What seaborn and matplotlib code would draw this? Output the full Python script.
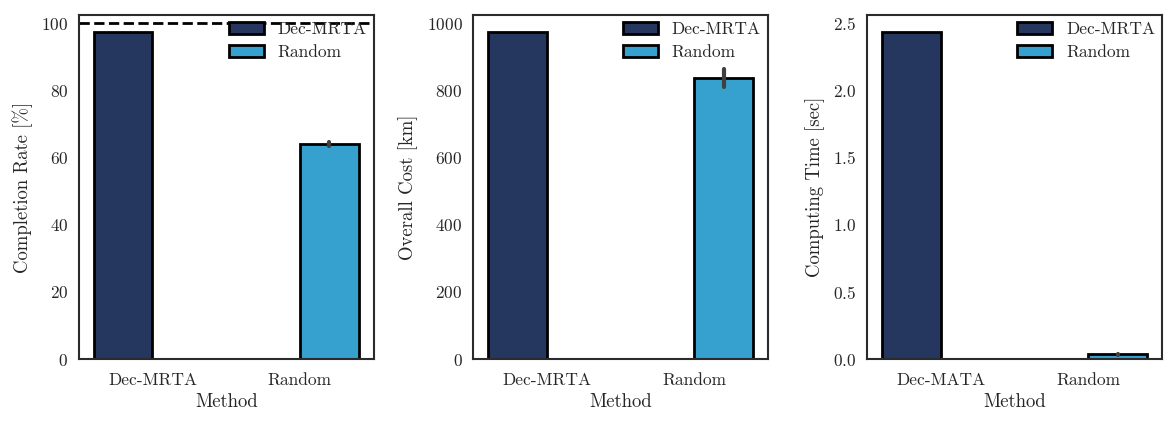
import pandas as pd
import numpy as np
import matplotlib
matplotlib.use("Agg")
import matplotlib.pyplot as plt
import seaborn as sns

methods = ["Dec-MRTA", "Random"]
colors = ["#25375F", "#36A1CE"]

# per-run values (Random has several runs -> spread)
completion_dec = [97.5]
completion_rand = [63.6, 64.1, 64.7]
cost_dec = [975]
cost_rand = [810, 837, 864]
time_dec = [2.43]
time_rand = [0.030, 0.035, 0.040]

def make_df(dec, rand):
    return pd.DataFrame({
        "Method": ["Dec-MRTA"] * len(dec) + ["Random"] * len(rand),
        "value": list(dec) + list(rand),
    })

sns.set_style("white")
plt.rcParams["font.family"] = "serif"
plt.rcParams["font.serif"] = ["cmr10", "DejaVu Serif"]
plt.rcParams["axes.formatter.use_mathtext"] = True
plt.rcParams["axes.edgecolor"] = "#2b2b2b"
plt.rcParams["axes.linewidth"] = 1.5

fig, axes = plt.subplots(1, 3, figsize=(11.76, 4.26), dpi=100)
plt.subplots_adjust(left=0.067, right=0.988, bottom=0.157, top=0.965, wspace=0.337)

panels = [
    (make_df(completion_dec, completion_rand), "Completion Rate [%]", (0, 102.5), methods),
    (make_df(cost_dec, cost_rand), "Overall Cost [km]", (0, 1025), methods),
    (make_df(time_dec, time_rand), "Computing Time [sec]", (0, 2.56), ["Dec-MATA", "Random"]),
]

for ax, (df, ylab, ylim, ticklabels) in zip(axes, panels):
    sns.barplot(data=df, x="Method", y="value", hue="Method", order=methods,
                hue_order=methods, palette=colors, dodge=True, saturation=1,
                errorbar=("pi", 100), edgecolor="black", linewidth=2,
                err_kws={"linewidth": 3, "color": "#404040"},
                legend=True, ax=ax)
    ax.set_ylim(*ylim)
    ax.set_ylabel(ylab, fontsize=13.5, labelpad=6)
    ax.set_xlabel("Method", fontsize=13.5, labelpad=4)
    ax.set_xticks([0, 1])
    ax.set_xticklabels(ticklabels)
    ax.tick_params(axis="x", labelsize=12.5, pad=6)
    ax.tick_params(axis="y", labelsize=12.5, pad=4)
    sns.move_legend(ax, "upper right", frameon=False, title=None, fontsize=12.5,
                    borderaxespad=0.0, handlelength=2.0, labelspacing=0.45)

axes[0].axhline(100, color="black", linestyle="--", linewidth=2)

plt.savefig("out.png", dpi=100)
